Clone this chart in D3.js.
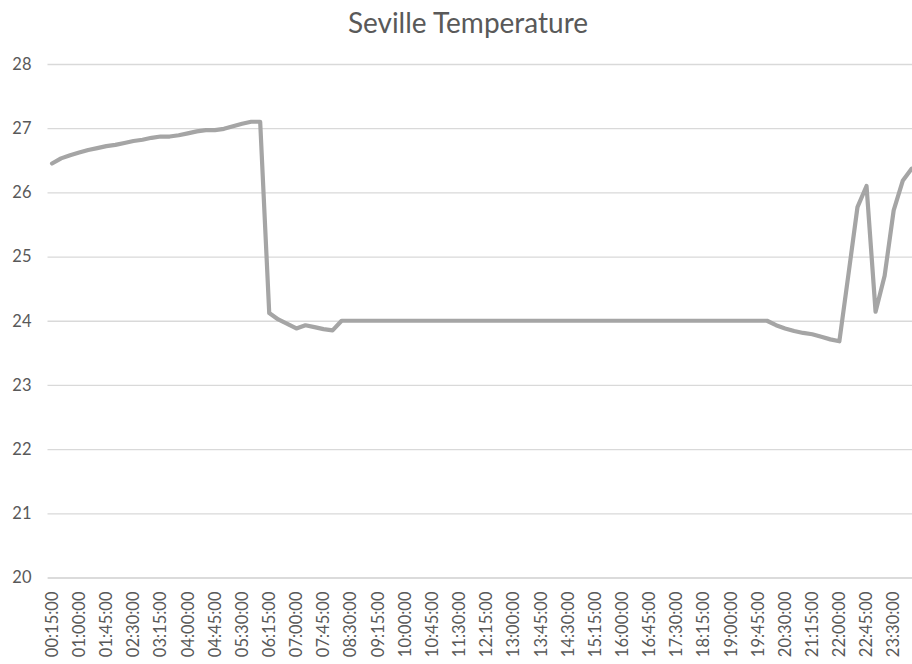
<!DOCTYPE html>
<html>

<head>
    <meta charset="utf-8">
    <title>Seville Temperature</title>
    <script src="https://d3js.org/d3.v7.min.js"></script>
    <style>
        body { margin: 0; background: #fff; }
        svg { display: block; }
    </style>
</head>

<body>
<script>
    // Chart data
    var chartTitle = "Seville Temperature";

    var times = [
        "00:15:00", "00:30:00", "00:45:00", "01:00:00", "01:15:00", "01:30:00", "01:45:00", "02:00:00",
        "02:15:00", "02:30:00", "02:45:00", "03:00:00", "03:15:00", "03:30:00", "03:45:00", "04:00:00",
        "04:15:00", "04:30:00", "04:45:00", "05:00:00", "05:15:00", "05:30:00", "05:45:00", "06:00:00",
        "06:15:00", "06:30:00", "06:45:00", "07:00:00", "07:15:00", "07:30:00", "07:45:00", "08:00:00",
        "08:15:00", "08:30:00", "08:45:00", "09:00:00", "09:15:00", "09:30:00", "09:45:00", "10:00:00",
        "10:15:00", "10:30:00", "10:45:00", "11:00:00", "11:15:00", "11:30:00", "11:45:00", "12:00:00",
        "12:15:00", "12:30:00", "12:45:00", "13:00:00", "13:15:00", "13:30:00", "13:45:00", "14:00:00",
        "14:15:00", "14:30:00", "14:45:00", "15:00:00", "15:15:00", "15:30:00", "15:45:00", "16:00:00",
        "16:15:00", "16:30:00", "16:45:00", "17:00:00", "17:15:00", "17:30:00", "17:45:00", "18:00:00",
        "18:15:00", "18:30:00", "18:45:00", "19:00:00", "19:15:00", "19:30:00", "19:45:00", "20:00:00",
        "20:15:00", "20:30:00", "20:45:00", "21:00:00", "21:15:00", "21:30:00", "21:45:00", "22:00:00",
        "22:15:00", "22:30:00", "22:45:00", "23:00:00", "23:15:00", "23:30:00", "23:45:00", "00:00:00"
    ];

    var temperatures = [
        26.45, 26.53, 26.58, 26.62, 26.66, 26.69, 26.72, 26.74,
        26.77, 26.80, 26.82, 26.85, 26.87, 26.87, 26.89, 26.92,
        26.95, 26.97, 26.97, 26.99, 27.03, 27.07, 27.10, 27.10,
        24.12, 24.02, 23.95, 23.88, 23.93, 23.90, 23.87, 23.85,
        24.00, 24.00, 24.00, 24.00, 24.00, 24.00, 24.00, 24.00,
        24.00, 24.00, 24.00, 24.00, 24.00, 24.00, 24.00, 24.00,
        24.00, 24.00, 24.00, 24.00, 24.00, 24.00, 24.00, 24.00,
        24.00, 24.00, 24.00, 24.00, 24.00, 24.00, 24.00, 24.00,
        24.00, 24.00, 24.00, 24.00, 24.00, 24.00, 24.00, 24.00,
        24.00, 24.00, 24.00, 24.00, 24.00, 24.00, 24.00, 24.00,
        23.93, 23.88, 23.84, 23.81, 23.79, 23.75, 23.71, 23.68,
        24.72, 25.77, 26.10, 24.14, 24.70, 25.72, 26.18, 26.37
    ];

    var yTicks = [20, 21, 22, 23, 24, 25, 26, 27, 28];

    var data = times.map(function(t, i) {
        return { time: t, temp: temperatures[i] };
    });

    // Size and plot box (plot runs a little past the right edge, as in the picture)
    var width = 912,
        height = 664;
    var plot = { left: 47.5, top: 64, bottom: 577.5, step: 9.05 };
    plot.right = plot.left + plot.step * times.length;

    var font = "Lato, 'Open Sans', sans-serif";
    var textColor = "#595959";

    var svg = d3.select("body")
        .append("svg")
        .attr("width", width)
        .attr("height", height);

    // Scales
    var x = d3.scaleBand()
        .domain(times)
        .range([plot.left, plot.right])
        .padding(0);

    var y = d3.scaleLinear()
        .domain([20, 28])
        .range([plot.bottom, plot.top]);

    // Title
    svg.append("text")
        .attr("x", 468)
        .attr("y", 33)
        .attr("text-anchor", "middle")
        .style("font-family", font)
        .style("font-size", "28px")
        .style("fill", textColor)
        .text(chartTitle);

    // Y axis with gridlines
    var yAxis = svg.append("g")
        .attr("transform", "translate(" + plot.left + ",0)")
        .call(d3.axisLeft(y)
            .tickValues(yTicks)
            .tickSize(-(plot.right - plot.left))
            .tickPadding(16)
            .tickFormat(d3.format("d")));
    yAxis.select(".domain").remove();
    yAxis.selectAll(".tick line")
        .attr("stroke", "#d9d9d9")
        .attr("stroke-width", 1.3);
    yAxis.selectAll(".tick text")
        .style("font-family", font)
        .style("font-size", "16.5px")
        .style("fill", textColor);

    // X axis: label every third time, rotated
    var xAxis = svg.append("g")
        .attr("transform", "translate(0," + plot.bottom + ")")
        .call(d3.axisBottom(x)
            .tickValues(times.filter(function(d, i) { return i % 3 === 0; }))
            .tickSize(0)
            .tickPadding(0));
    xAxis.select(".domain")
        .attr("stroke", "#d9d9d9")
        .attr("stroke-width", 1.3);
    xAxis.selectAll(".tick text")
        .attr("transform", "rotate(-90)")
        .attr("x", -14)
        .attr("y", 0)
        .attr("dy", "0.35em")
        .style("text-anchor", "end")
        .style("font-family", font)
        .style("font-size", "16.5px")
        .style("fill", textColor);

    // Line
    var line = d3.line()
        .x(function(d) { return x(d.time) + x.bandwidth() / 2; })
        .y(function(d) { return y(d.temp); });

    svg.append("path")
        .datum(data)
        .attr("d", line)
        .attr("fill", "none")
        .attr("stroke", "#a5a5a5")
        .attr("stroke-width", 4.2)
        .attr("stroke-linejoin", "round")
        .attr("stroke-linecap", "round");
</script>
</body>

</html>
